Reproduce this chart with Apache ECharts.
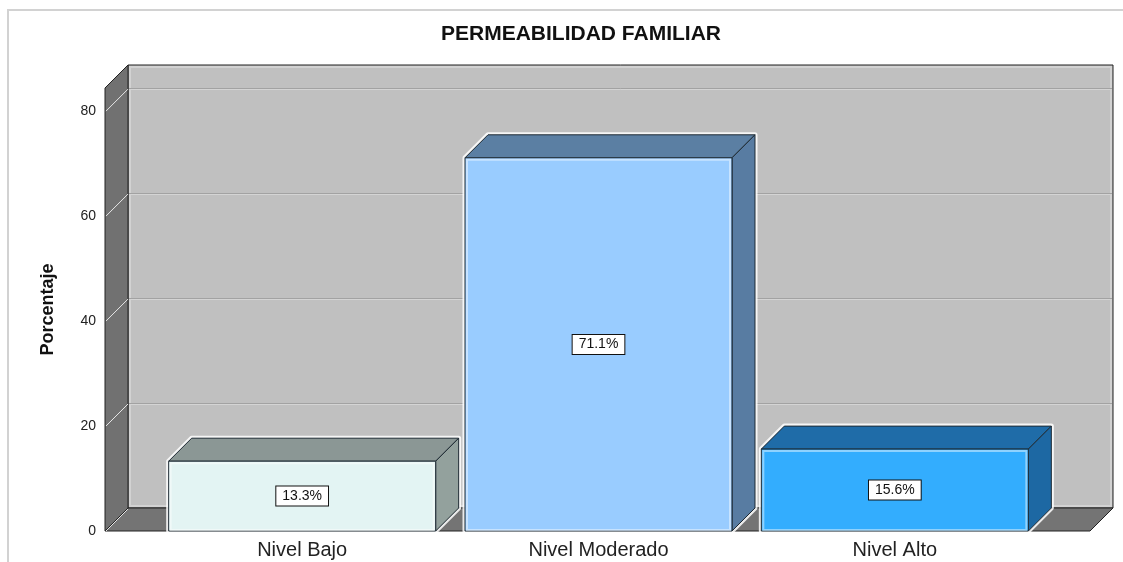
<!DOCTYPE html>
<html>
<head>
<meta charset="utf-8">
<title>Permeabilidad familiar</title>
<script src="https://cdn.jsdelivr.net/npm/echarts@6.0.0/dist/echarts.min.js"></script>
<style>
  html, body { margin: 0; padding: 0; background: #fff; }
  #chart-1 { width: 1123px; height: 562px; }
</style>
</head>
<body>
<div id="chart-1"></div>
<script>
// datos
const categories = ['Nivel Bajo', 'Nivel Moderado', 'Nivel Alto'];
const porcentajes = [13.3, 71.1, 15.6];
const yTicks = [0, 20, 40, 60, 80];

// estilos (cara frontal, cara superior, cara lateral)
const frontColors = ['#e3f4f3', '#99ccff', '#33adfe'];
const topColors = ['#8b9795', '#5b7fa3', '#1f6ca8'];
const sideColors = ['#93a19d', '#587ca2', '#1d68a3'];
const DX = 23, DY = 23; // profundidad 3D

const FONT = '"Liberation Sans", Arial, sans-serif';

function renderWalls(params, api) {
    const cs = params.coordSys;
    const fl = cs.x - 49;               // borde frontal izquierdo
    const fr = cs.x + cs.width + 47;    // borde frontal derecho
    const yTop = cs.y;
    const y0 = api.coord([0, 0])[1];
    const children = [];

    // pared del fondo
    children.push({
        type: 'rect',
        shape: { x: fl + DX, y: yTop - DY, width: fr - fl, height: y0 - yTop },
        style: { fill: '#c0c0c0', stroke: '#222', lineWidth: 1 }
    });
    children.push({
        type: 'rect',
        shape: { x: fl + DX + 2, y: yTop - DY + 2, width: fr - fl - 4, height: y0 - yTop - 4 },
        style: { fill: 'none', stroke: '#d2d2d2', lineWidth: 2 }
    });
    // lineas de cuadricula en el fondo
    yTicks.forEach(function (v) {
        if (v === 0) return;
        const y = Math.round(api.coord([0, v])[1] - DY) + 0.5;
        children.push({
            type: 'line',
            shape: { x1: fl + DX + 1, y1: y, x2: fr + DX - 1, y2: y },
            style: { stroke: '#a2a2a2', lineWidth: 1 }
        });
        children.push({
            type: 'line',
            shape: { x1: fl + DX + 1, y1: y + 1, x2: fr + DX - 1, y2: y + 1 },
            style: { stroke: '#d4d4d4', lineWidth: 1 }
        });
    });
    // pared lateral
    children.push({
        type: 'polygon',
        shape: { points: [[fl, y0], [fl + DX, y0 - DY], [fl + DX, yTop - DY], [fl, yTop]] },
        style: { fill: '#717171', stroke: '#222', lineWidth: 1 }
    });
    // suelo
    children.push({
        type: 'polygon',
        shape: { points: [[fl, y0], [fr, y0], [fr + DX, y0 - DY], [fl + DX, y0 - DY]] },
        style: { fill: '#747474', stroke: '#222', lineWidth: 1 }
    });
    // marcas diagonales en la pared lateral
    yTicks.forEach(function (v) {
        const y = api.coord([0, v])[1];
        children.push({
            type: 'line',
            shape: { x1: fl + 1, y1: y, x2: fl + DX, y2: y - DY + 1 },
            style: { stroke: '#e6e6e6', lineWidth: 1 }
        });
    });
    return { type: 'group', children: children };
}

function renderBar(params, api) {
    const i = api.value(0);
    const v = api.value(1);
    const base = api.coord([i, 0]);
    const top = api.coord([i, v]);
    const w = api.size([1, 0])[0] * 0.901;
    const x0 = base[0] - w / 2, x1 = base[0] + w / 2;
    const yT = top[1], yB = base[1];
    const idx = params.dataIndex;
    const edge = '#1e2a33';

    return {
        type: 'group',
        children: [
            {   // halo blanco
                type: 'polygon',
                shape: { points: [[x0, yB], [x0, yT], [x0 + DX, yT - DY], [x1 + DX, yT - DY], [x1 + DX, yB - DY], [x1, yB]] },
                style: { fill: 'none', stroke: 'rgba(255,255,255,0.85)', lineWidth: 5, lineJoin: 'round' }
            },
            {
                type: 'polygon',
                shape: { points: [[x0, yT], [x1, yT], [x1 + DX, yT - DY], [x0 + DX, yT - DY]] },
                style: { fill: topColors[idx], stroke: edge, lineWidth: 1 }
            },
            {
                type: 'polygon',
                shape: { points: [[x1, yT], [x1 + DX, yT - DY], [x1 + DX, yB - DY], [x1, yB]] },
                style: { fill: sideColors[idx], stroke: edge, lineWidth: 1 }
            },
            {
                type: 'rect',
                shape: { x: x0, y: yT, width: w, height: yB - yT },
                style: { fill: frontColors[idx], stroke: edge, lineWidth: 1 }
            },
            {
                type: 'rect',
                shape: { x: x0 + 2, y: yT + 2, width: w - 4, height: yB - yT - 3 },
                style: { fill: 'none', stroke: 'rgba(255,255,255,0.45)', lineWidth: 2 }
            },
            {
                type: 'text',
                x: base[0],
                y: (yT + yB) / 2,
                style: {
                    text: v.toFixed(1) + '%',
                    fill: '#111',
                    font: '14px ' + FONT,
                    align: 'center',
                    verticalAlign: 'middle',
                    backgroundColor: '#fff',
                    borderColor: '#111',
                    borderWidth: 1,
                    padding: [3, 6, 2, 6]
                }
            }
        ]
    };
}

const TheChart = echarts.init(document.getElementById('chart-1'));

TheChart.setOption({
    backgroundColor: '#fff',
    animation: false,
    title: {
        text: 'PERMEABILIDAD FAMILIAR',
        left: 436,
        top: 19,
        textStyle: { fontFamily: FONT, fontWeight: 'bold', fontSize: 21, color: '#111' }
    },
    graphic: [{
        type: 'rect',
        shape: { x: 8, y: 10, width: 1200, height: 620 },
        style: { fill: 'none', stroke: '#d2d2d2', lineWidth: 2 },
        silent: true
    }],
    grid: { left: 154, right: 80, top: 88, bottom: 31 },
    xAxis: {
        type: 'category',
        data: categories,
        axisLine: { show: false },
        axisTick: { show: false },
        axisLabel: { fontFamily: FONT, fontSize: 20, color: '#222', margin: 9 }
    },
    yAxis: {
        type: 'value',
        min: 0,
        max: 84.4,
        interval: 20,
        name: 'Porcentaje',
        nameLocation: 'middle',
        nameRotate: 90,
        nameGap: 97,
        nameTextStyle: { fontFamily: FONT, fontWeight: 'bold', fontSize: 18, color: '#111' },
        axisLine: { show: false },
        axisTick: { show: false },
        splitLine: { show: false },
        axisLabel: { fontFamily: FONT, fontSize: 14, color: '#222', margin: 58, showMaxLabel: false }
    },
    series: [
        {
            type: 'custom',
            z: 1,
            silent: true,
            renderItem: renderWalls,
            data: [[0, 0]]
        },
        {
            type: 'custom',
            z: 2,
            renderItem: renderBar,
            encode: { x: 0, y: 1 },
            data: porcentajes.map((p, i) => [i, p])
        }
    ]
});
</script>
</body>
</html>
